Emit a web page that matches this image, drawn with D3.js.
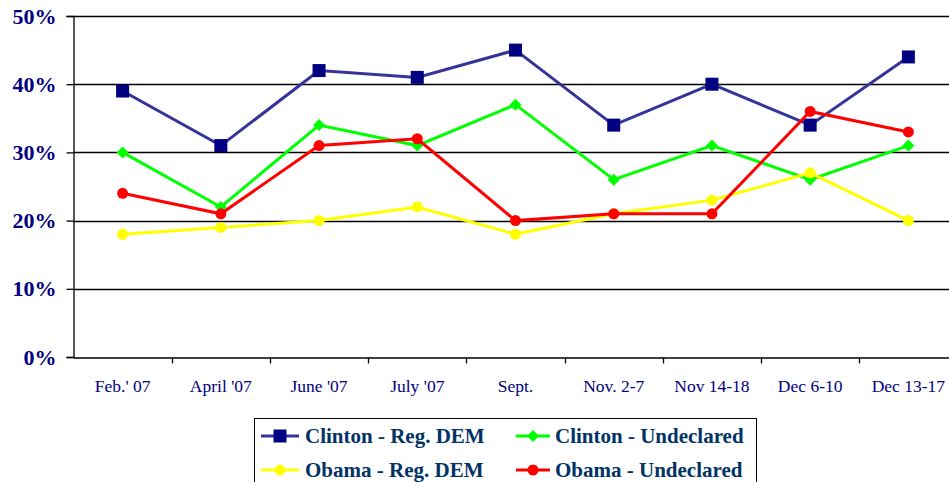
<!DOCTYPE html>
<html>
<head>
<meta charset="utf-8">
<script src="https://cdn.jsdelivr.net/npm/d3@7"></script>
<style>
  body { margin: 0; background: #fff; }
  svg { display: block; }
</style>
</head>
<body>
<div id="chart"></div>
<script>
// data
var categories = ["Feb.' 07", "April '07", "June '07", "July '07", "Sept.", "Nov. 2-7", "Nov 14-18", "Dec 6-10", "Dec 13-17"];
var clintonRegDem = [39, 31, 42, 41, 45, 34, 40, 34, 44];
var clintonUndeclared = [30, 22, 34, 31, 37, 26, 31, 26, 31];
var obamaRegDem = [18, 19, 20, 22, 18, 21, 23, 27, 20];
var obamaUndeclared = [24, 21, 31, 32, 20, 21, 21, 36, 33];
var yTicks = [0, 10, 20, 30, 40, 50];

var series = [
  { name: "Clinton - Reg. DEM", values: clintonRegDem, line: "#333399", fill: "#000080", shape: "square" },
  { name: "Clinton - Undeclared", values: clintonUndeclared, line: "#00ff00", fill: "#00ff00", shape: "diamond" },
  { name: "Obama - Reg. DEM", values: obamaRegDem, line: "#ffff00", fill: "#ffff00", shape: "circle" },
  { name: "Obama - Undeclared", values: obamaUndeclared, line: "#ff0000", fill: "#ff0000", shape: "circle" }
];

var serif = "'Liberation Serif', 'DejaVu Serif', 'Times New Roman', serif";
var svgWidth = 949;
var svgHeight = 482;

var svg = d3.select("#chart")
  .append("svg")
  .attr("width", svgWidth)
  .attr("height", svgHeight);

// plot area runs past the right edge, like the original
var xScale = d3.scaleBand()
  .domain(categories)
  .range([73.5, 957.5]);

var yScale = d3.scaleLinear()
  .domain([0, 50])
  .range([357, 16]);

// gridlines
svg.append("g")
  .selectAll("line")
  .data(yTicks.slice(1))
  .enter()
  .append("line")
  .attr("x1", 73.5)
  .attr("x2", 957.5)
  .attr("y1", d => Math.round(yScale(d)) + 0.5)
  .attr("y2", d => Math.round(yScale(d)) + 0.5)
  .attr("stroke", "#000")
  .attr("stroke-width", 1.3);

// y axis
var leftAxis = d3.axisLeft(yScale)
  .tickValues(yTicks)
  .tickSize(7)
  .tickPadding(10)
  .tickFormat(d => d + "%");

var yAxisG = svg.append("g")
  .attr("transform", "translate(73.5,0)")
  .call(leftAxis)
  .attr("font-family", null);
yAxisG.select(".domain").attr("stroke", "#000").attr("stroke-width", 1.3);
yAxisG.selectAll(".tick line").attr("stroke", "#000").attr("stroke-width", 1.3);
yAxisG.selectAll(".tick text")
  .style("font-family", serif)
  .style("font-weight", "bold")
  .style("font-size", "22px")
  .attr("fill", "#000080");

// x axis: ticks at band edges, labels at centers
var bottomAxis = d3.axisBottom(xScale)
  .tickSize(0)
  .tickPadding(22);

var xAxisG = svg.append("g")
  .attr("transform", "translate(0,357.5)")
  .call(bottomAxis)
  .attr("font-family", null);
xAxisG.select(".domain").attr("stroke", "#000").attr("stroke-width", 1.3);
xAxisG.selectAll(".tick text")
  .style("font-family", serif)
  .style("font-size", "17.5px")
  .attr("fill", "#000080");

xAxisG.selectAll(".edge")
  .data(categories.slice(1))
  .enter()
  .append("line")
  .attr("class", "edge")
  .attr("x1", d => Math.round(xScale(d)) + 0.5)
  .attr("x2", d => Math.round(xScale(d)) + 0.5)
  .attr("y1", 0)
  .attr("y2", 6)
  .attr("stroke", "#000")
  .attr("stroke-width", 1.3);

var cx = d => xScale(d) + xScale.bandwidth() / 2;

function drawMarker(g, shape, x, y, fill) {
  if (shape === "square") {
    g.append("rect").attr("x", x - 6.5).attr("y", y - 6.5)
      .attr("width", 13).attr("height", 13).attr("fill", fill);
  } else if (shape === "diamond") {
    g.append("path")
      .attr("d", `M${x},${y - 6}L${x + 6},${y}L${x},${y + 6}L${x - 6},${y}Z`)
      .attr("fill", fill);
  } else {
    g.append("circle").attr("cx", x).attr("cy", y).attr("r", 5.5).attr("fill", fill);
  }
}

var line = d3.line()
  .x(d => cx(d.cat))
  .y(d => yScale(d.v));

series.forEach(function(s) {
  var pts = categories.map((c, i) => ({ cat: c, v: s.values[i] }));
  var g = svg.append("g");
  g.append("path")
    .datum(pts)
    .attr("d", line)
    .attr("fill", "none")
    .attr("stroke", s.line)
    .attr("stroke-width", 3);
  pts.forEach(function(p) {
    drawMarker(g, s.shape, cx(p.cat), yScale(p.v), s.fill);
  });
});

// legend
var legend = svg.append("g");
legend.append("rect")
  .attr("x", 254.5)
  .attr("y", 418.5)
  .attr("width", 502)
  .attr("height", 80)
  .attr("fill", "#fff")
  .attr("stroke", "#000")
  .attr("stroke-width", 1);

// [symbol x, symbol width, text x, y]
var legendPos = [[261, 38, 305, 436], [516, 34, 555, 436], [261, 38, 305, 470], [516, 34, 555, 470]];
series.forEach(function(s, i) {
  var p = legendPos[i];
  legend.append("line")
    .attr("x1", p[0]).attr("x2", p[0] + p[1])
    .attr("y1", p[3]).attr("y2", p[3])
    .attr("stroke", s.line).attr("stroke-width", 3);
  drawMarker(legend, s.shape, p[0] + p[1] / 2, p[3], s.fill);
  legend.append("text")
    .attr("x", p[2])
    .attr("y", p[3] + 7)
    .style("font-family", serif)
    .style("font-weight", "bold")
    .style("font-size", "21px")
    .attr("fill", "#003366")
    .text(s.name);
});
</script>
</body>
</html>
